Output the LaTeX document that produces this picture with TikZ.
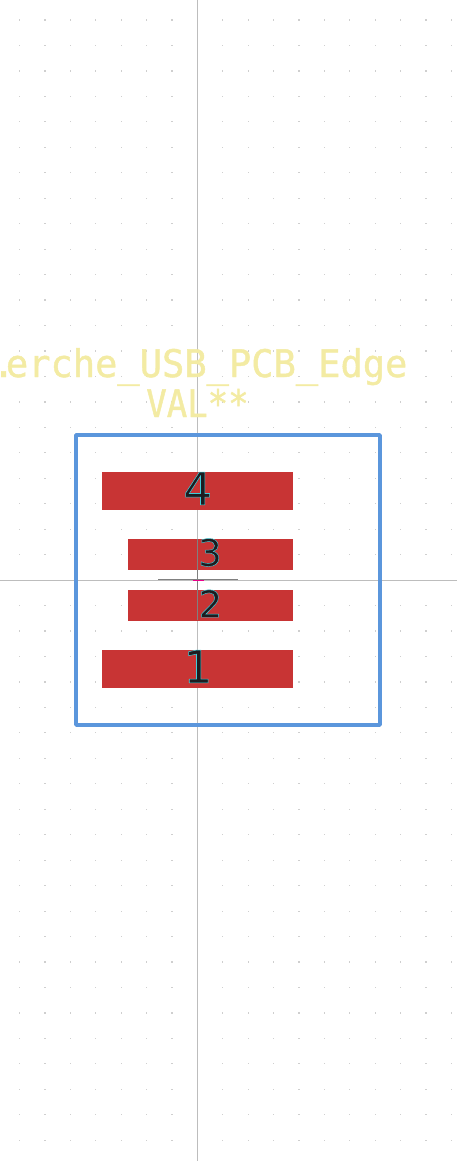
\documentclass[tikz,border=0pt]{standalone}
\usepackage{fontspec}
\newfontfamily\silkfont[FakeStretch=0.975,FakeBold=1.2]{DejaVu Sans Mono}
\newfontfamily\valfont[FakeStretch=0.895,FakeBold=1.2]{DejaVu Sans Mono}
\newfontfamily\numfont[FakeBold=1.2]{DejaVu Sans}
\definecolor{padred}{HTML}{C83434}
\definecolor{edgeblue}{HTML}{5B96DC}
\definecolor{silk}{HTML}{F3EBA3}
\definecolor{axisgrey}{HTML}{BDBDBD}
\definecolor{griddot}{HTML}{CFCFCF}
\definecolor{numdark}{HTML}{1C1C20}
\NewDocumentCommand{\padnum}{O{45pt}m}{\fontsize{#1}{#1}\numfont\special{pdf:code 0.25 0.8 0.85 RG}#2}
\tikzset{
	padbig/.style={fill=padred, inner sep=0, outer sep=0, minimum width=191pt, minimum height=38pt},
	padsmall/.style={fill=padred, inner sep=0, outer sep=0, minimum width=165pt, minimum height=31pt},
	silktext/.style={text=silk, inner sep=0, anchor=base, font=\fontsize{38pt}{38pt}\silkfont},
	numtext/.style={text=numdark, inner sep=0},
}

\begin{document}
\begin{tikzpicture}[x=1pt, y=-1pt]
	\useasboundingbox (0, 0) rectangle (457, 1161);
	\foreach \col in {0, ..., 17} {
		\foreach \row in {0, ..., 44} {
			\fill [griddot] (19.5 + 25.4*\col - 0.6, 20 + 25.46*\row - 0.6) rectangle ++(1.2, 1.2);
		}
	}
	\draw [axisgrey, line width=1pt] (197.5, 0) -- (197.5, 1161);
	\draw [axisgrey, line width=1pt] (0, 580) -- (457, 580);

	\coordinate (origin) at (197.5, 580);
	\path (origin) ++(-196.5, -203) node [silktext, anchor=base west] (ref) {\makebox[4.7pt]{.}erche\_USB\_PCB\_Edge};
	\path (origin) ++(0, -163) node [silktext, font=\fontsize{38pt}{38pt}\valfont] (val) {VAL**};
	\draw [edgeblue, line width=3.8pt, line join=round] (76, 435) rectangle (380, 725);

	\path (origin) ++(0, -89) node [padbig] (pad4) {};
	\path (origin) ++(13, -25.5) node [padsmall] (pad3) {};
	\path (origin) ++(13, 25.5) node [padsmall] (pad2) {};
	\path (origin) ++(0, 89) node [padbig] (pad1) {};

	\draw [gray, line width=1pt] (origin) ++(-39.5, -1) -- ++(80, 0);
	\draw [gray, line width=1pt] (origin) ++(0, -41) -- ++(0, 81);
	\draw [magenta, line width=1pt] (origin) ++(-5, 0) -- ++(11, 0);

	\path (pad4) ++(0.3, -2.5) node [numtext] (num4) {\padnum{4}};
	\path (pad3) ++(-0.5, -2) node [numtext] (num3) {\padnum[37pt]{3}};
	\path (pad2) ++(0, -2) node [numtext] (num2) {\padnum[37pt]{2}};
	\path (pad1) ++(0.5, -2.5) node [numtext] (num1) {\padnum{1}};
\end{tikzpicture}
\end{document}
